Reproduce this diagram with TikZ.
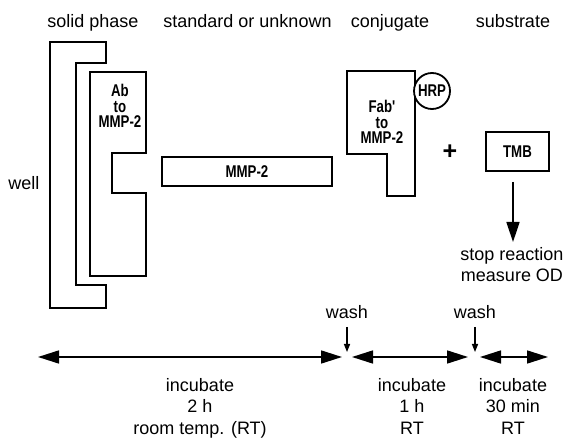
\documentclass[tikz,border=0pt]{standalone}
\usepackage{fontspec}
\setmainfont{Liberation Sans}
\newfontfamily\condfont[FakeStretch=0.78]{Liberation Sans}
\usetikzlibrary{arrows.meta}

\begin{document}
\begin{tikzpicture}[x=1pt,y=-1pt,line width=1.8pt,
  lbl/.style={font=\fontsize{18}{21.5}\selectfont,inner sep=0pt,align=center,anchor=base},
  bold/.style={font=\condfont\bfseries\fontsize{17}{15.5}\selectfont,inner sep=0pt,align=center},
  box/.style={bold,draw,line width=1.8pt},
  span/.style={line width=1.6pt,{Triangle[length=21pt,width=13pt]}-{Triangle[length=21pt,width=13pt]}},
  down/.style={line width=1.6pt,-{Triangle[length=20pt,width=13pt]}},
  washarr/.style={line width=1.4pt,-{Triangle[length=8pt,width=6pt]}}]
\useasboundingbox (0,0) rectangle (565,438);
% well and solid phase
\draw (50,42) -- (106,42) -- (106,63) -- (76,63) -- (76,285) -- (106,285) -- (106,308) -- (50,308) -- cycle;
\draw (90,72) -- (146,72) -- (146,153) -- (112,153) -- (112,193) -- (146,193) -- (146,276) -- (90,276) -- cycle;
\node[bold,anchor=base] (ab) at (120,128) {Ab\\to\\MMP-2};
% standard
\node[box,minimum width=170pt,minimum height=29pt] (std) at (247,171.5) {MMP-2};
% conjugate
\draw (347,71) -- (415,71) -- (415,196) -- (387,196) -- (387,154) -- (347,154) -- cycle;
\node[bold,anchor=base] (fab) at (382,144) {Fab'\\to\\MMP-2};
\node[bold,circle,draw,fill=white,minimum size=36pt] (hrp) at (432,91) {HRP};
% substrate
\node[font=\bfseries\fontsize{25}{25}\selectfont,inner sep=0pt] (plus) at (450,152) {+};
\node[box,minimum width=63pt,minimum height=39pt] (tmb) at (517.5,151.5) {TMB};
\coordinate (d0) at (513,182); \coordinate (d1) at (513,242);
\draw[down] (d0) -- (d1);
\node[lbl] (stop) at (512,282) {stop reaction\\measure OD};
% headers
\foreach \n/\x/\t in {sp/93/solid phase,su/247.5/standard or unknown,cj/390/conjugate,sb/513/substrate}
  \node[lbl] (\n) at (\x,28) {\t};
\node[lbl] (well) at (24,190) {well};
% time line
\foreach \n/\a/\b in {1/38/342,2/352/468,3/480/548}{
  \coordinate (s\n) at (\a,357); \coordinate (e\n) at (\b,357);
  \draw[span] (s\n) -- (e\n);}
\foreach \n/\x in {1/347,2/475}{
  \node[lbl] (wash\n) at (\x,319) {wash};
  \coordinate (w\n) at (\x,327); \coordinate (v\n) at (\x,352);
  \draw[washarr] (w\n) -- (v\n);}
\node[lbl] (inc1) at (200,434) {incubate\\2 h\\room temp. (RT)};
\node[lbl] (inc2) at (412,434) {incubate\\1 h\\RT};
\node[lbl] (inc3) at (513,434) {incubate\\30 min\\RT};
\end{tikzpicture}
\end{document}
